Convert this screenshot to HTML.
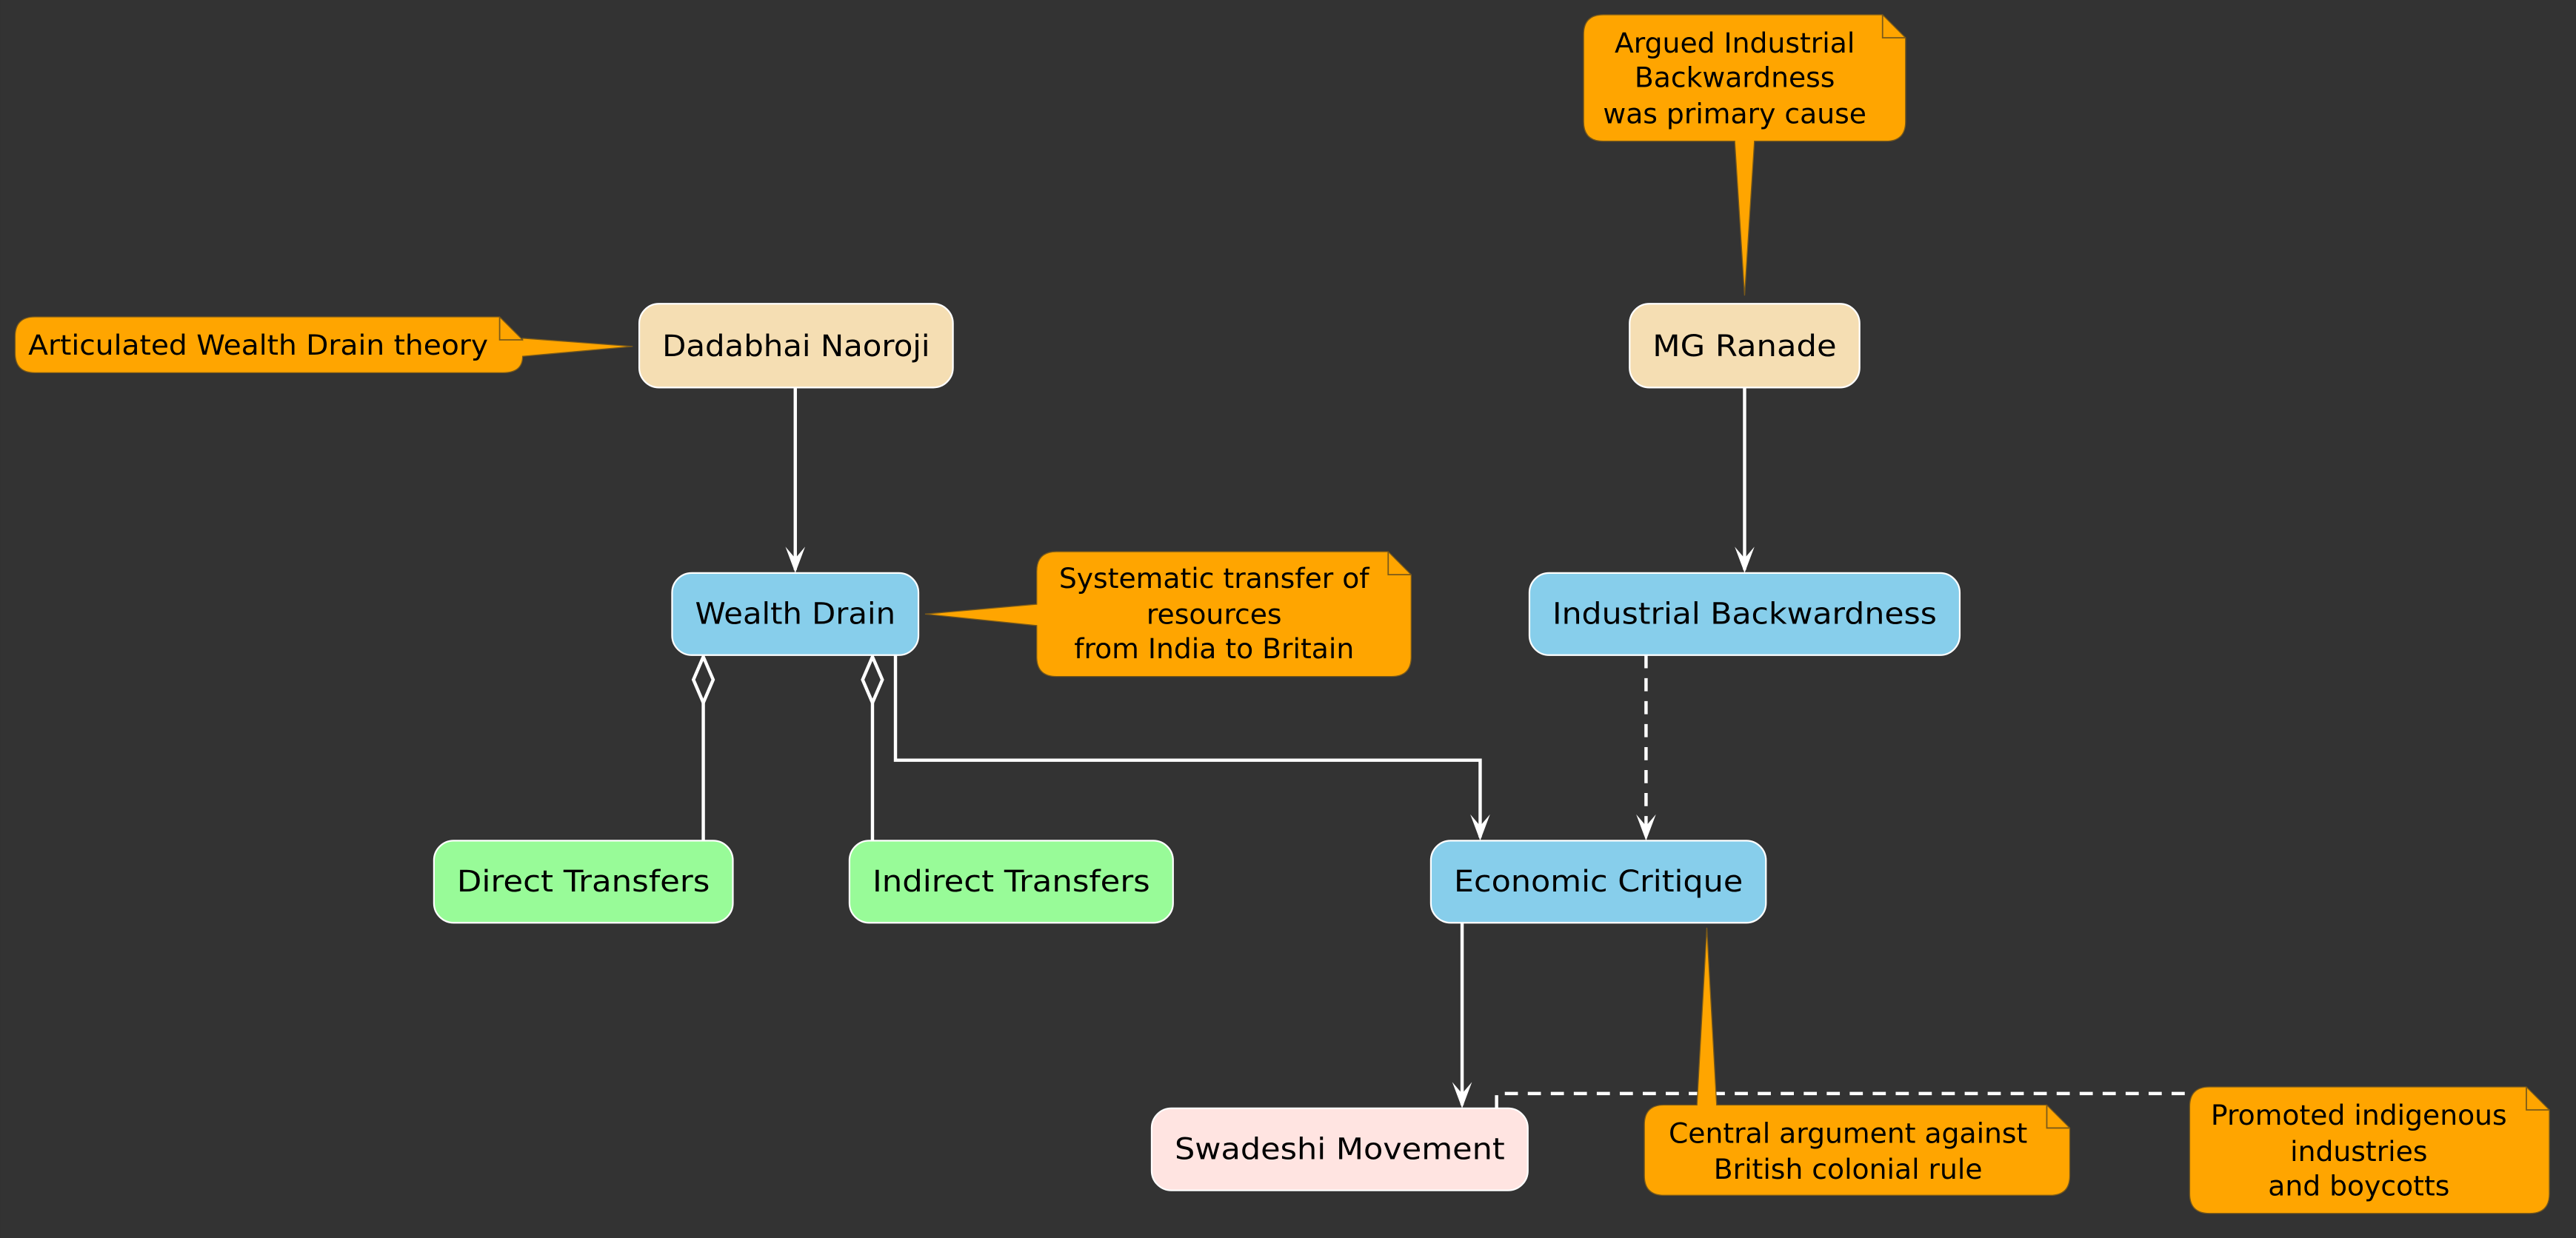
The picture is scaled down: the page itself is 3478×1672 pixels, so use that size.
<!DOCTYPE html>
<html><head><meta charset="utf-8"><style>
html,body{margin:0;padding:0;background:#333333;}
svg{display:block;}
text{font-family:"DejaVu Sans","Liberation Sans",sans-serif;fill:#000;}
</style></head><body>
<svg width="3478" height="1672" viewBox="0 0 1568 754" xmlns="http://www.w3.org/2000/svg">
<rect x="0" y="0" width="1568" height="754" fill="#333333"/>
<g stroke="#ffffff" stroke-width="2" fill="none">
<line x1="484" y1="236" x2="484" y2="347"/>
<line x1="1062" y1="236" x2="1062" y2="347"/>
<line x1="1002" y1="399" x2="1002" y2="510" stroke-dasharray="8,6"/>
<polyline points="545,399 545,463 901,463 901,510"/>
<line x1="890" y1="562" x2="890" y2="673"/>
<line x1="428" y1="428" x2="428" y2="512"/>
<line x1="531" y1="428" x2="531" y2="512"/>
<path d="M428,400 L434,414 L428,428 L422,414 Z"/>
<path d="M531,400 L537,414 L531,428 L525,414 Z"/>
<polyline points="911,675 911,666 1333,666" stroke-dasharray="8,6"/>
</g>
<g fill="#ffffff">
<path d="M478,333 L484,349 L490,333 L484,340 Z"/>
<path d="M1056,333 L1062,349 L1068,333 L1062,340 Z"/>
<path d="M996,496 L1002,512 L1008,496 L1002,503 Z"/>
<path d="M895,496 L901,512 L907,496 L901,503 Z"/>
<path d="M884,659 L890,675 L896,659 L890,666 Z"/>
</g>
<g stroke="#ffffff" stroke-width="1">
<rect x="389" y="185" width="191" height="51" rx="12" fill="#F5DEB3"/>
<rect x="992" y="185" width="140" height="51" rx="12" fill="#F5DEB3"/>
<rect x="409" y="349" width="150" height="50" rx="12" fill="#87CEEB"/>
<rect x="931" y="349" width="262" height="50" rx="12" fill="#87CEEB"/>
<rect x="264" y="512" width="182" height="50" rx="12" fill="#98FB98"/>
<rect x="517" y="512" width="197" height="50" rx="12" fill="#98FB98"/>
<rect x="871" y="512" width="204" height="50" rx="12" fill="#87CEEB"/>
<rect x="701" y="675" width="229" height="50" rx="12" fill="#FFE4E1"/>
</g>
<g font-size="18" text-anchor="middle">
<text x="484.5" y="217" textLength="163" lengthAdjust="spacingAndGlyphs">Dadabhai Naoroji</text>
<text x="1062" y="217" textLength="112" lengthAdjust="spacingAndGlyphs">MG Ranade</text>
<text x="484" y="380" textLength="122" lengthAdjust="spacingAndGlyphs">Wealth Drain</text>
<text x="1062" y="380" textLength="234" lengthAdjust="spacingAndGlyphs">Industrial Backwardness</text>
<text x="355" y="543" textLength="154" lengthAdjust="spacingAndGlyphs">Direct Transfers</text>
<text x="615.5" y="543" textLength="169" lengthAdjust="spacingAndGlyphs">Indirect Transfers</text>
<text x="973" y="543" textLength="176" lengthAdjust="spacingAndGlyphs">Economic Critique</text>
<text x="815.5" y="706" textLength="201" lengthAdjust="spacingAndGlyphs">Swadeshi Movement</text>
</g>
<g fill="#FFA500" stroke="#7a5a1a" stroke-width="0.6">
<path d="M21,193 L304,193 L318,207 L318,206 L385,211 L318,217 Q318,227 306,227 L21,227 Q9,227 9,215 L9,205 Q9,193 21,193 Z"/>
<path d="M976,9 L1146,9 L1160,23 L1160,74 Q1160,86 1148,86 L1068,86 L1062,180 L1056,86 L976,86 Q964,86 964,74 L964,21 Q964,9 976,9 Z"/>
<path d="M643,336 L845,336 L859,350 L859,400 Q859,412 847,412 L643,412 Q631,412 631,400 L631,381 L563,374 L631,368 L631,348 Q631,336 643,336 Z"/>
<path d="M1013,673 L1033,673 L1039,565 L1045,673 L1246,673 L1260,687 L1260,716 Q1260,728 1248,728 L1013,728 Q1001,728 1001,716 L1001,685 Q1001,673 1013,673 Z"/>
<path d="M1345,662 L1538,662 L1552,676 L1552,727 Q1552,739 1540,739 L1345,739 Q1333,739 1333,727 L1333,674 Q1333,662 1345,662 Z"/>
</g>
<g fill="none" stroke="#7a5a1a" stroke-width="0.8">
<path d="M304,193 L304,207 L318,207"/>
<path d="M1146,9 L1146,23 L1160,23"/>
<path d="M845,336 L845,350 L859,350"/>
<path d="M1246,673 L1246,687 L1260,687"/>
<path d="M1538,662 L1538,676 L1552,676"/>
</g>
<g font-size="17" text-anchor="middle">
<text x="157" y="216" textLength="280" lengthAdjust="spacingAndGlyphs">Articulated Wealth Drain theory</text>
<text x="1056" y="32">Argued Industrial</text>
<text x="1056" y="53">Backwardness</text>
<text x="1056" y="75">was primary cause</text>
<text x="739" y="358">Systematic transfer of</text>
<text x="739" y="380">resources</text>
<text x="739" y="401">from India to Britain</text>
<text x="1125" y="696">Central argument against</text>
<text x="1125" y="718">British colonial rule</text>
<text x="1436" y="685">Promoted indigenous</text>
<text x="1436" y="707">industries</text>
<text x="1436" y="728">and boycotts</text>
</g>
</svg>
</body></html>
